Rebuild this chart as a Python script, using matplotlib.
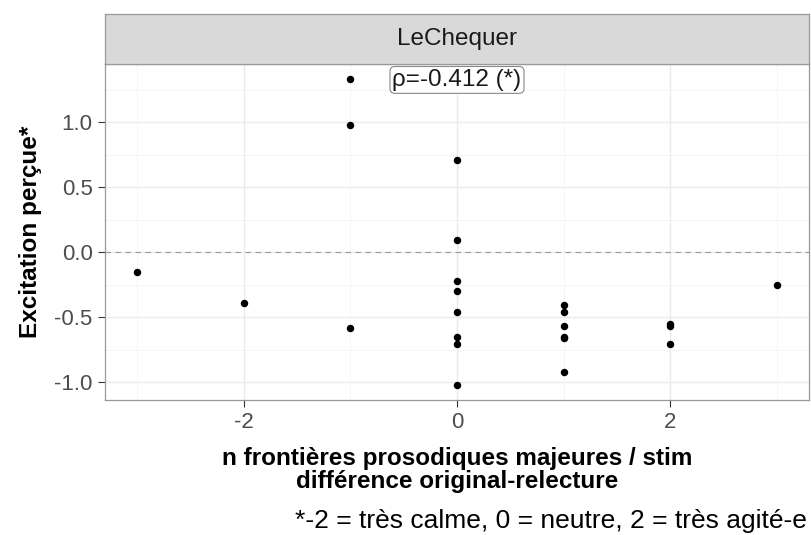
import matplotlib.pyplot as plt
from matplotlib.patches import Rectangle

plt.rcParams['font.family'] = ['Liberation Sans', 'DejaVu Sans']
plt.rcParams['axes.unicode_minus'] = False

# differences in prosodic boundaries (x) vs perceived excitation (y)
x_diff = [-3, -2, -1, -1, -1,
          0, 0, 0, 0, 0, 0, 0, 0,
          1, 1, 1, 1, 1, 1,
          2, 2, 2, 3]
excitation = [-0.15, -0.39, 1.33, 0.98, -0.58,
              0.71, 0.09, -0.22, -0.30, -0.46, -0.65, -0.71, -1.02,
              -0.41, -0.46, -0.57, -0.65, -0.66, -0.92,
              -0.55, -0.57, -0.71, -0.25]
rho_label = 'ρ=-0.412 (*)'
panel_title = 'LeChequer'

fig = plt.figure(figsize=(8.11, 5.35), dpi=100)
ax = fig.add_axes([105 / 811, 1 - 400 / 535, 704 / 811, 336 / 535])

# gridlines like theme_bw
for v in [-1.0, -0.5, 0.0, 0.5, 1.0]:
    ax.axhline(v, color='#ebebeb', lw=1.0, zorder=0)
for v in [-0.75, -0.25, 0.25, 0.75, 1.25]:
    ax.axhline(v, color='#f4f4f4', lw=0.6, zorder=0)
for v in [-2, 0, 2]:
    ax.axvline(v, color='#ebebeb', lw=1.0, zorder=0)
for v in [-3, -1, 1, 3]:
    ax.axvline(v, color='#f4f4f4', lw=0.6, zorder=0)

ax.axhline(0, color='#999999', lw=0.8, ls=(0, (5, 4)), zorder=1)
ax.scatter(x_diff, excitation, s=19, color='black', zorder=3)

ax.text(0, 1.325, rho_label, ha='center', va='center', fontsize=17.5,
        color='#1a1a1a', zorder=4,
        bbox=dict(boxstyle='round,pad=0.1,rounding_size=0.2',
                  facecolor='white', edgecolor='#888888', lw=0.8))

ax.set_xlim(-3.3, 3.3)
ax.set_ylim(-1.1375, 1.4475)
ax.set_xticks([-2, 0, 2])
ax.set_yticks([-1.0, -0.5, 0.0, 0.5, 1.0])
ax.set_yticklabels(['-1.0', '-0.5', '0.0', '0.5', '1.0'])
ax.tick_params(colors='#333333', labelcolor='#4d4d4d', labelsize=16,
               length=5, width=0.8, pad=4)
for s in ax.spines.values():
    s.set_color('#999999')
    s.set_linewidth(0.9)

ax.set_xlabel('n frontières prosodiques majeures / stim\ndifférence original-relecture',
              fontsize=17.5, fontweight='bold', labelpad=10, linespacing=1.0)
ax.set_ylabel('Excitation perçue*', fontsize=17.5, fontweight='bold', labelpad=9)

# facet strip on top of the panel
strip = fig.add_axes([105 / 811, 1 - 64 / 535, 704 / 811, 50 / 535])
strip.add_patch(Rectangle((0, 0), 1, 1, transform=strip.transAxes,
                          facecolor='#d9d9d9', edgecolor='none'))
strip.set_xticks([])
strip.set_yticks([])
for s in strip.spines.values():
    s.set_color('#999999')
    s.set_linewidth(0.9)
strip.text(0.5, 0.5, panel_title, ha='center', va='center', fontsize=17.5,
           color='#1a1a1a')

fig.text(807 / 811, 1 - 521 / 535, '*-2 = très calme, 0 = neutre, 2 = très agité-e',
         ha='right', va='center', fontsize=19)

fig.savefig('out.png', dpi=100)
